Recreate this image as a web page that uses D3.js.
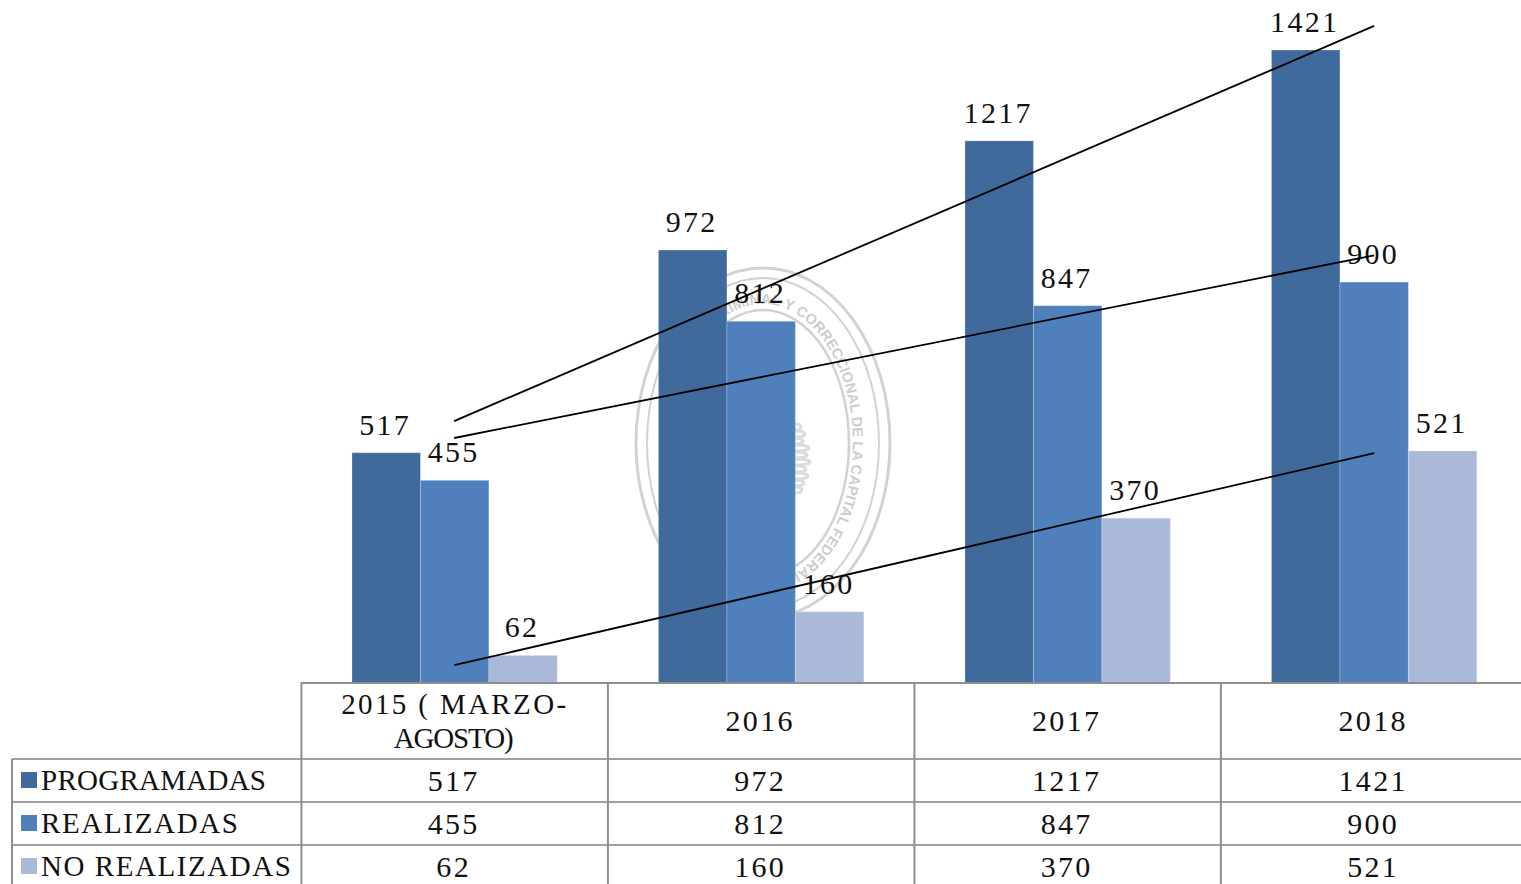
<!DOCTYPE html>
<html>
<head>
<meta charset="utf-8">
<script src="https://cdn.jsdelivr.net/npm/d3@7"></script>
<style>
    html, body { margin: 0; padding: 0; background: #fff; overflow: hidden; }
    text { font-family: "Liberation Serif", serif; fill: #111; }
    .num { font-size: 30px; letter-spacing: 2.3px; }
</style>
</head>
<body>
<div id="chart"></div>
<script>
// Data
const categories = ["2015 ( MARZO-AGOSTO)", "2016", "2017", "2018"];
const categoryLines = [["2015 ( MARZO-", "AGOSTO)"], ["2016"], ["2017"], ["2018"]];
const seriesNames = ["PROGRAMADAS", "REALIZADAS", "NO REALIZADAS"];
const programadas = [517, 972, 1217, 1421];
const realizadas = [455, 812, 847, 900];
const noRealizadas = [62, 160, 370, 521];
const seriesValues = [programadas, realizadas, noRealizadas];
const seriesColors = ["#406a9c", "#4f80bc", "#aab9d7"];
// start and end value of the trend line of each series
const trendProgramadas = [588, 1475];
const trendRealizadas = [550, 960];
const trendNoRealizadas = [40, 516];
const trends = [trendProgramadas, trendRealizadas, trendNoRealizadas];
const legendWidths = [225, 197, 250];

const width = 1521, height = 884;
const baseline = 683;

const svg = d3.select("#chart").append("svg")
    .attr("width", width)
    .attr("height", height)
    .style("display", "block");

const x = d3.scaleBand().domain(categories).range([301.4, 1527.4]).paddingInner(0.33).paddingOuter(0.165);
const xInner = d3.scaleBand().domain(seriesNames).range([0, x.bandwidth()]);
const y = d3.scaleLinear().domain([0, 1421]).range([baseline, 50]);
const rows = d3.scaleBand().domain(seriesNames).range([759, 888]);

// Watermark seal behind the bars
const seal = svg.append("g")
    .attr("transform", "translate(763,443)")
    .attr("fill", "none")
    .attr("stroke", "#d2d2d2");
[[127, 175, 3], [116, 165, 2], [86, 133, 2.5]].forEach(r => {
    seal.append("ellipse").attr("rx", r[0]).attr("ry", r[1]).attr("stroke-width", r[2]);
});
svg.append("defs").append("path")
    .attr("id", "seal-path")
    .attr("d", d3.line()(d3.range(-128, 232, 3).map(a => {
        const t = a * Math.PI / 180;
        return [763 + 90 * Math.sin(t), 443 - 139 * Math.cos(t)];
    })));
svg.append("text")
    .attr("font-size", 14.5)
    .style("font-family", '"Liberation Sans", sans-serif')
    .style("font-weight", "bold")
    .style("fill", "#cdcdcd")
    .append("textPath")
    .attr("href", "#seal-path")
    .attr("startOffset", 35)
    .text("CAMARA DE APELACION CRIMINAL Y CORRECCIONAL DE LA CAPITAL FEDERAL");
// small coat of arms in the middle, mostly hidden by the bar
const arms = svg.append("g").attr("transform", "translate(796,460)").attr("fill", "none").attr("stroke", "#dcdcdc").attr("stroke-width", 3);
[-33, -26, -19, -12, -5, 2, 9, 16, 23, 30].forEach((d, i) => {
    arms.append("ellipse").attr("cy", d).attr("rx", [5, 9, 7, 13, 11, 14, 10, 12, 8, 6][i]).attr("ry", 3);
});

// Bars
seriesNames.forEach((name, s) => {
    svg.append("g").selectAll("rect")
        .data(seriesValues[s])
        .enter().append("rect")
        .attr("x", (d, i) => x(categories[i]) + xInner(name))
        .attr("y", d => y(d))
        .attr("width", xInner.bandwidth())
        .attr("height", d => baseline - y(d))
        .attr("fill", seriesColors[s])
        .attr("stroke", "#ffffff")
        .attr("stroke-opacity", 0.22);
});

// Value labels
seriesNames.forEach((name, s) => {
    svg.append("g").selectAll("text")
        .data(seriesValues[s])
        .enter().append("text")
        .attr("class", "num")
        .attr("x", (d, i) => x(categories[i]) + xInner(name) + xInner.bandwidth() / 2 - 1)
        .attr("y", d => y(d) - 18)
        .attr("text-anchor", "middle")
        .text(d => d);
});

// Trend lines, from the centre of the first group to the centre of the last
const trendLine = d3.line()
    .x((d, i) => (i === 0 ? x(categories[0]) : x(categories[3])) + x.bandwidth() / 2 + (i === 0 ? -0.5 : 0))
    .y(d => y(d));
trends.forEach(t => {
    svg.append("path")
        .attr("d", trendLine(t))
        .attr("fill", "none")
        .attr("stroke", "#000")
        .attr("stroke-width", 1.8);
});

// Data table
const grid = svg.append("g").attr("stroke", "#8e8e8e").attr("stroke-width", 2);
grid.append("line").attr("x1", 301).attr("x2", width).attr("y1", baseline).attr("y2", baseline);
seriesNames.forEach(name => {
    grid.append("line").attr("x1", 12).attr("x2", width).attr("y1", rows(name)).attr("y2", rows(name)).attr("stroke", "#a0a0a0");
});
grid.append("line").attr("x1", 12).attr("x2", 12).attr("y1", rows.range()[0]).attr("y2", height);
categories.forEach(c => {
    const colX = x(c) - x.step() * 0.165;
    grid.append("line").attr("x1", colX).attr("x2", colX).attr("y1", baseline).attr("y2", height);
});

// Category header
categories.forEach((c, i) => {
    const lines = categoryLines[i];
    const cx = x(c) + x.bandwidth() / 2 - 1;
    lines.forEach((l, k) => {
        const t = svg.append("text")
            .attr("x", cx)
            .attr("y", lines.length === 1 ? 731 : 714 + k * 34)
            .attr("text-anchor", "middle")
            .attr("class", "num")
            .text(l);
        if (lines.length > 1) {
            t.style("letter-spacing", "0px").style("font-size", "29px")
                .attr("textLength", k === 0 ? 225 : 120);
        }
    });
});

// Legend keys, series names and table values
seriesNames.forEach((name, s) => {
    const top = rows(name);
    svg.append("rect")
        .attr("x", 21).attr("y", top + 13)
        .attr("width", 16).attr("height", 16)
        .attr("fill", seriesColors[s]);
    svg.append("text")
        .attr("x", 41).attr("y", top + 31)
        .attr("font-size", 29)
        .attr("textLength", legendWidths[s])
        .text(name);
    seriesValues[s].forEach((v, i) => {
        svg.append("text")
            .attr("class", "num")
            .attr("x", x(categories[i]) + x.bandwidth() / 2 - 1)
            .attr("y", top + 32)
            .attr("text-anchor", "middle")
            .text(v);
    });
});
</script>
</body>
</html>
